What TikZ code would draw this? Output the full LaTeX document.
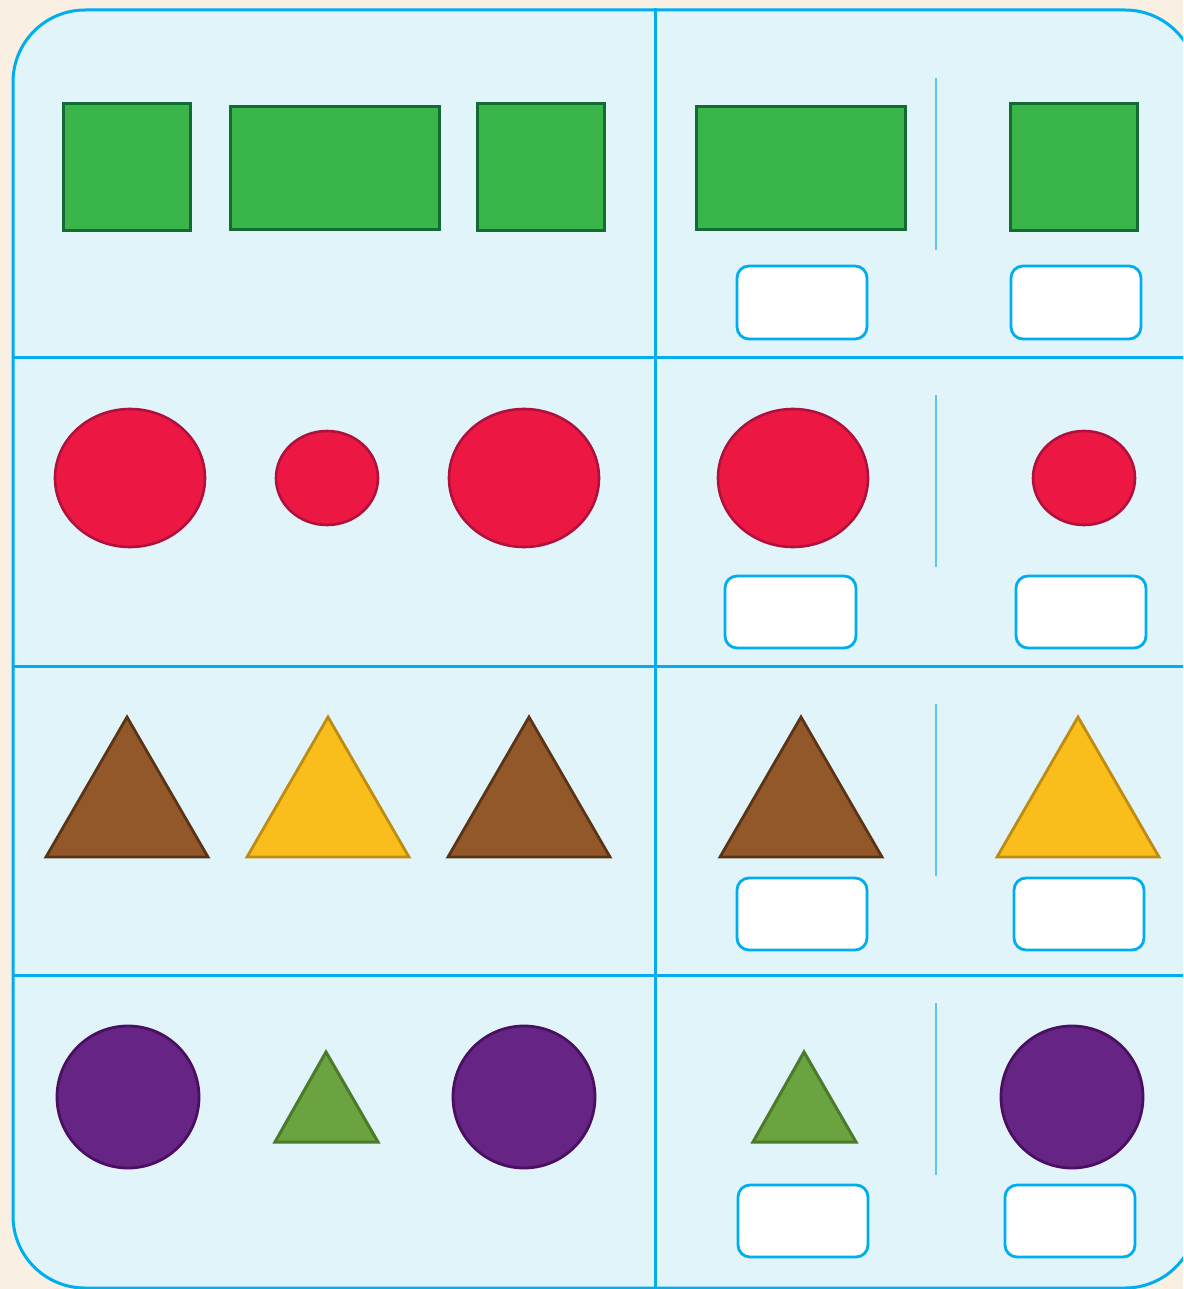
\documentclass[tikz,border=0pt]{standalone}
\begin{document}
\begin{tikzpicture}[x=1pt,y=-1pt,
  grid/.style={draw=cyanline,line width=3pt},
  thinsep/.style={draw=cyanthin,line width=1.6pt},
  ansbox/.style={draw=cyanline,fill=white,line width=2.8pt,rounded corners=12pt},
  grn/.style={fill=greenfill,draw=greendraw,line width=3pt},
  red/.style={fill=redfill,draw=reddraw,line width=2.6pt},
  brn/.style={fill=brownfill,draw=browndraw,line width=2.8pt},
  ylw/.style={fill=yellowfill,draw=yellowdraw,line width=2.8pt},
  prp/.style={fill=purplefill,draw=purpledraw,line width=2.8pt},
  ltg/.style={fill=ltgreenfill,draw=ltgreendraw,line width=3pt}]
\definecolor{bgbeige}{HTML}{F9EFE2}
\definecolor{panel}{HTML}{E1F4FA}
\definecolor{cyanline}{HTML}{00AEEF}
\definecolor{cyanthin}{HTML}{5CC6F0}
\definecolor{greenfill}{HTML}{3AB54A}
\definecolor{greendraw}{HTML}{116B32}
\definecolor{redfill}{HTML}{ED1744}
\definecolor{reddraw}{HTML}{B0113C}
\definecolor{brownfill}{HTML}{92582A}
\definecolor{browndraw}{HTML}{5A3414}
\definecolor{yellowfill}{HTML}{F9BE1B}
\definecolor{yellowdraw}{HTML}{BE8C10}
\definecolor{purplefill}{HTML}{662584}
\definecolor{purpledraw}{HTML}{4A0F60}
\definecolor{ltgreenfill}{HTML}{6AA33F}
\definecolor{ltgreendraw}{HTML}{4A7A2A}
\useasboundingbox (0,0) rectangle (1183,1289);
\fill[bgbeige] (0,0) rectangle (1183,1289);
\begin{scope}
\clip (0,0) rectangle (1183,1289);
\draw[fill=panel,draw=cyanline,line width=3pt,rounded corners=72pt] (13,10) rectangle (1197,1288);
% grid
\draw[grid] (655,8) -- (655,1289);
\draw[grid] (13,357) -- (1183,357);
\draw[grid] (13,666) -- (1183,666);
\draw[grid] (13,975) -- (1183,975);
\end{scope}
% thin separators
\draw[thinsep] (936,78) -- (936,250);
\draw[thinsep] (936,395) -- (936,567);
\draw[thinsep] (936,704) -- (936,876);
\draw[thinsep] (936,1003) -- (936,1175);
% row 1
\draw[grn] (63,104) rectangle (190,231);
\draw[grn] (230,107) rectangle (439,230);
\draw[grn] (477,104) rectangle (604,231);
\draw[grn] (696,107) rectangle (905,230);
\draw[grn] (1010,104) rectangle (1137,231);
\draw[ansbox] (737,266) rectangle (867,339);
\draw[ansbox] (1011,266) rectangle (1141,339);
% row 2
\draw[red] (130,478) ellipse [x radius=75, y radius=69];
\draw[red] (327,478) ellipse [x radius=51, y radius=47];
\draw[red] (524,478) ellipse [x radius=75, y radius=69];
\draw[red] (793,478) ellipse [x radius=75, y radius=69];
\draw[red] (1084,478) ellipse [x radius=51, y radius=47];
\draw[ansbox] (725,576) rectangle (856,648);
\draw[ansbox] (1016,576) rectangle (1146,648);
% row 3
\draw[brn,line join=miter] (46,857) -- (208,857) -- (127,717) -- cycle;
\draw[ylw,line join=miter] (247,857) -- (409,857) -- (328,717) -- cycle;
\draw[brn,line join=miter] (448,857) -- (610,857) -- (529,717) -- cycle;
\draw[brn,line join=miter] (720,857) -- (882,857) -- (801,717) -- cycle;
\draw[ylw,line join=miter] (997,857) -- (1159,857) -- (1078,717) -- cycle;
\draw[ansbox] (737,878) rectangle (867,950);
\draw[ansbox] (1014,878) rectangle (1144,950);
% row 4
\draw[prp] (128,1097) circle [radius=71];
\draw[prp] (524,1097) circle [radius=71];
\draw[prp] (1072,1097) circle [radius=71];
\draw[ltg] (275,1142) -- (378,1142) -- (326,1052) -- cycle;
\draw[ltg] (753,1142) -- (856,1142) -- (804,1052) -- cycle;
\draw[ansbox] (738,1185) rectangle (868,1257);
\draw[ansbox] (1005,1185) rectangle (1135,1257);
\end{tikzpicture}
\end{document}
